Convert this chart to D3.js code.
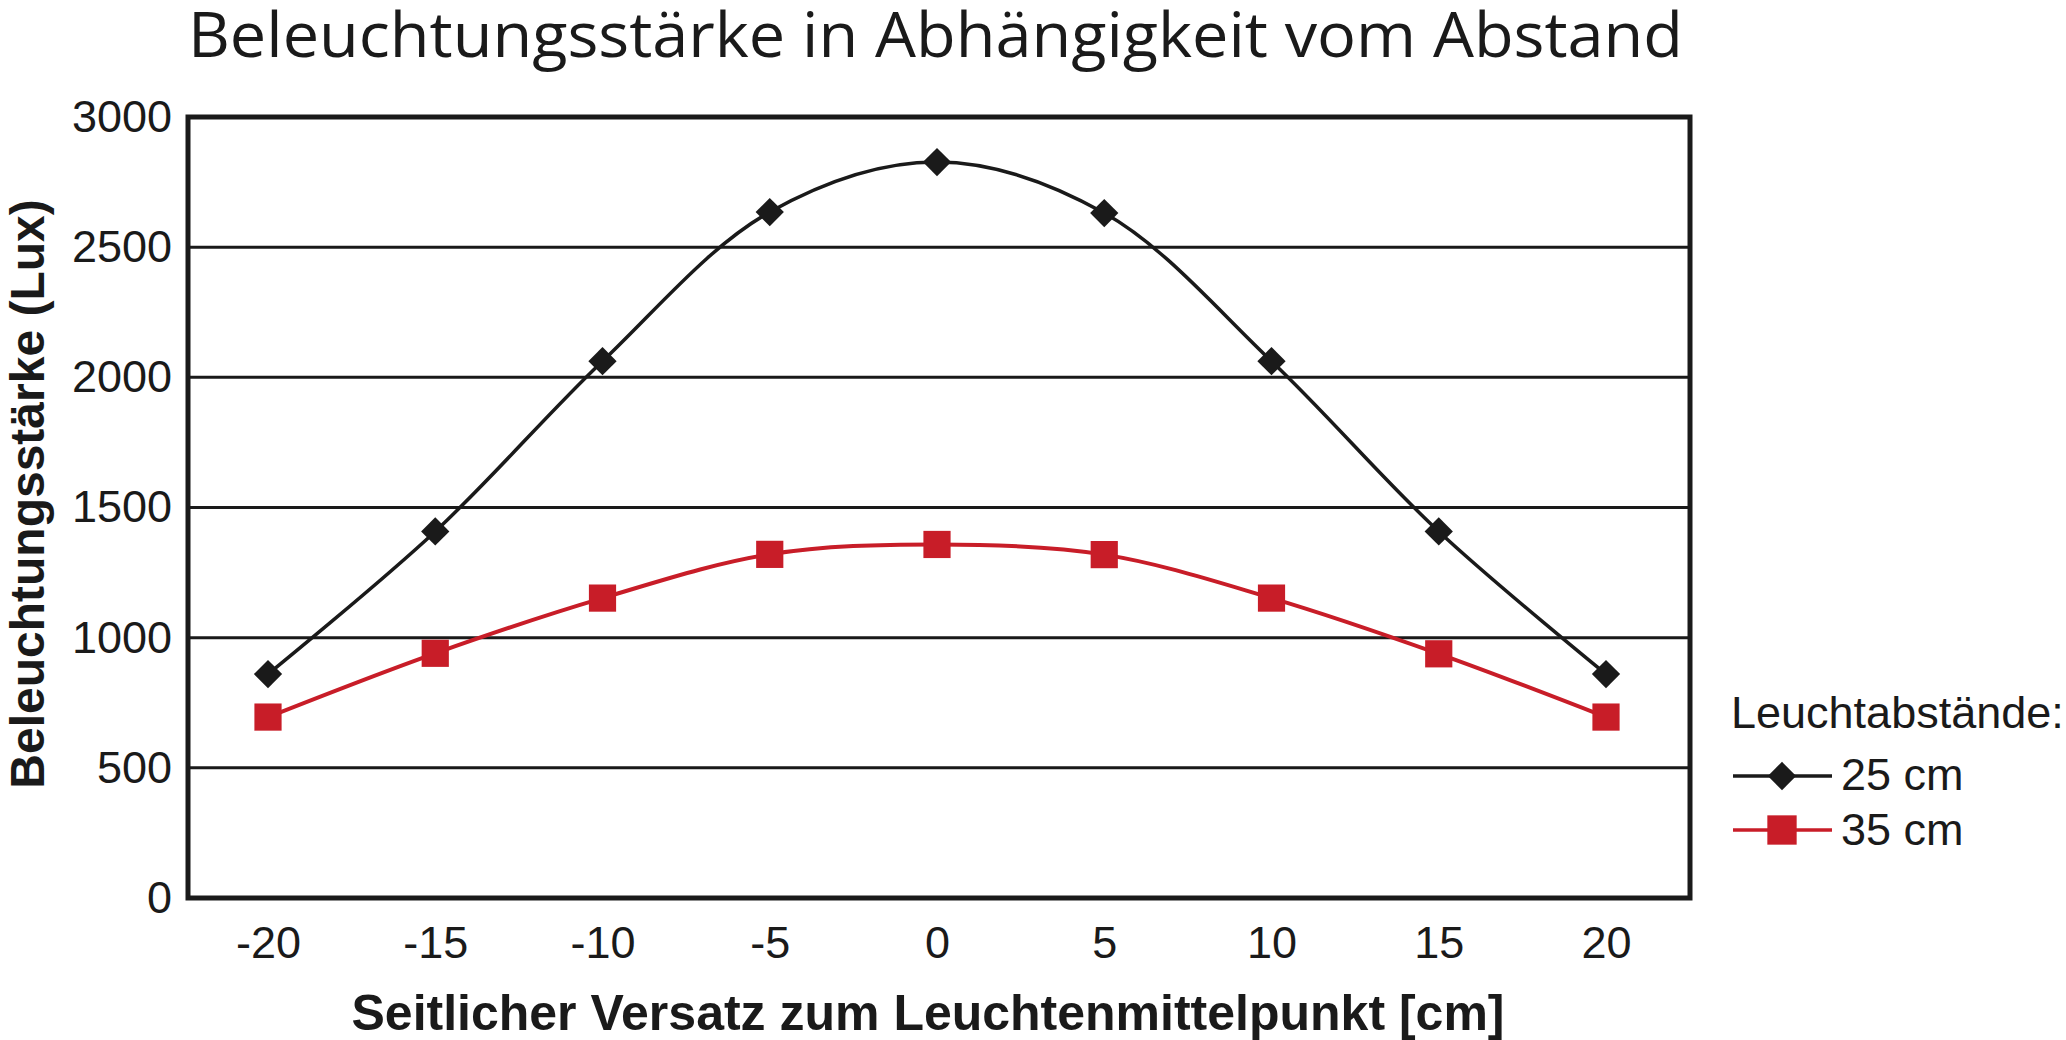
<!DOCTYPE html>
<html lang="de">
<head>
<meta charset="UTF-8">
<title>Beleuchtungsstärke</title>
<style>
  body { margin: 0; background: #fff; }
  svg { display: block; }
  text { font-family: "Liberation Sans", Arial, sans-serif; fill: #1a1a1a; }
</style>
</head>
<body>
<svg id="chart" width="2066" height="1040"></svg>
<script src="https://d3js.org/d3.v7.min.js"></script>
<script>
// values
const offsets = [-20, -15, -10, -5, 0, 5, 10, 15, 20];
const lux25 = [860, 1408, 2062, 2635, 2827, 2631, 2062, 1408, 860];
const lux35 = [695, 940, 1152, 1320, 1358, 1319, 1152, 938, 695];
const yTicks = [0, 500, 1000, 1500, 2000, 2500, 3000];
const seriesNames = ["25 cm", "35 cm"];

const svg = d3.select("#chart");
const plotL = 188, plotR = 1690, plotT = 117, plotB = 898;
const red = "#c81d28", black = "#1a1a1a";

const x = d3.scaleLinear().domain([-20, 20]).range([268, 1606]);
const y = d3.scaleLinear().domain([0, 3000]).range([plotB, plotT]);

// title
svg.append("text")
  .attr("x", 188).attr("y", 57)
  .attr("textLength", 1495).attr("lengthAdjust", "spacingAndGlyphs")
  .style("font-family", "'Open Sans', sans-serif")
  .style("font-size", "62px")
  .text("Beleuchtungsstärke in Abhängigkeit vom Abstand");

// grid lines
svg.append("g")
  .selectAll("line")
  .data(yTicks.slice(1, -1)).enter()
  .append("line")
  .attr("x1", plotL).attr("x2", plotR)
  .attr("y1", d => y(d)).attr("y2", d => y(d))
  .attr("stroke", black).attr("stroke-width", 3);

// frame
svg.append("rect")
  .attr("x", plotL).attr("y", plotT)
  .attr("width", plotR - plotL).attr("height", plotB - plotT)
  .attr("fill", "none").attr("stroke", black).attr("stroke-width", 5);

// axes
const plain = d => String(d);
const yAxis = svg.append("g")
  .attr("transform", "translate(" + plotL + ",0)")
  .call(d3.axisLeft(y).tickValues(yTicks).tickFormat(plain).tickSize(0).tickPadding(16));
const xAxis = svg.append("g")
  .attr("transform", "translate(0," + plotB + ")")
  .call(d3.axisBottom(x).tickValues(offsets).tickFormat(plain).tickSize(0).tickPadding(28));
[xAxis, yAxis].forEach(a => {
  a.select(".domain").remove();
  a.selectAll("text")
    .style("font-family", "'Liberation Sans', Arial, sans-serif")
    .style("font-size", "45px").attr("fill", black);
});

// axis titles
svg.append("text")
  .attr("x", 928).attr("y", 1030)
  .attr("text-anchor", "middle")
  .style("font-size", "50px").style("font-weight", "bold")
  .text("Seitlicher Versatz zum Leuchtenmittelpunkt [cm]");

svg.append("text")
  .attr("transform", "translate(44,494) rotate(-90)")
  .attr("text-anchor", "middle")
  .style("font-size", "48px").style("font-weight", "bold")
  .text("Beleuchtungsstärke (Lux)");

// lines
const line = d3.line()
  .x((d, i) => x(offsets[i]))
  .y(d => y(d))
  .curve(d3.curveCatmullRom);

svg.append("path").datum(lux35)
  .attr("d", line).attr("fill", "none")
  .attr("stroke", red).attr("stroke-width", 4);
svg.append("path").datum(lux25)
  .attr("d", line).attr("fill", "none")
  .attr("stroke", black).attr("stroke-width", 3.5);

// markers
const diamond = d3.symbol().type(d3.symbolSquare).size(400);
const square = d3.symbol().type(d3.symbolSquare).size(740);

svg.append("g")
  .selectAll("path")
  .data(lux25).enter()
  .append("path")
  .attr("d", diamond)
  .attr("transform", (d, i) => "translate(" + x(offsets[i]) + "," + y(d) + ") rotate(45)")
  .attr("fill", black);

svg.append("g")
  .selectAll("path")
  .data(lux35).enter()
  .append("path")
  .attr("d", square)
  .attr("transform", (d, i) => "translate(" + x(offsets[i]) + "," + y(d) + ")")
  .attr("fill", red);

// legend
const legend = svg.append("g");
legend.append("text")
  .attr("x", 1731).attr("y", 728)
  .style("font-size", "45px")
  .text("Leuchtabstände:");

const rows = [
  { name: seriesNames[0], color: black, sym: diamond, rot: 45, ly: 776, ty: 790 },
  { name: seriesNames[1], color: red, sym: d3.symbol().type(d3.symbolSquare).size(860), rot: 0, ly: 830, ty: 845 }
];
rows.forEach(r => {
  legend.append("line")
    .attr("x1", 1733).attr("x2", 1832)
    .attr("y1", r.ly).attr("y2", r.ly)
    .attr("stroke", r.color).attr("stroke-width", 3.5);
  legend.append("path")
    .attr("d", r.sym)
    .attr("transform", "translate(1782," + r.ly + ") rotate(" + r.rot + ")")
    .attr("fill", r.color);
  legend.append("text")
    .attr("x", 1841).attr("y", r.ty)
    .style("font-size", "45px")
    .text(r.name);
});
</script>
</body>
</html>
